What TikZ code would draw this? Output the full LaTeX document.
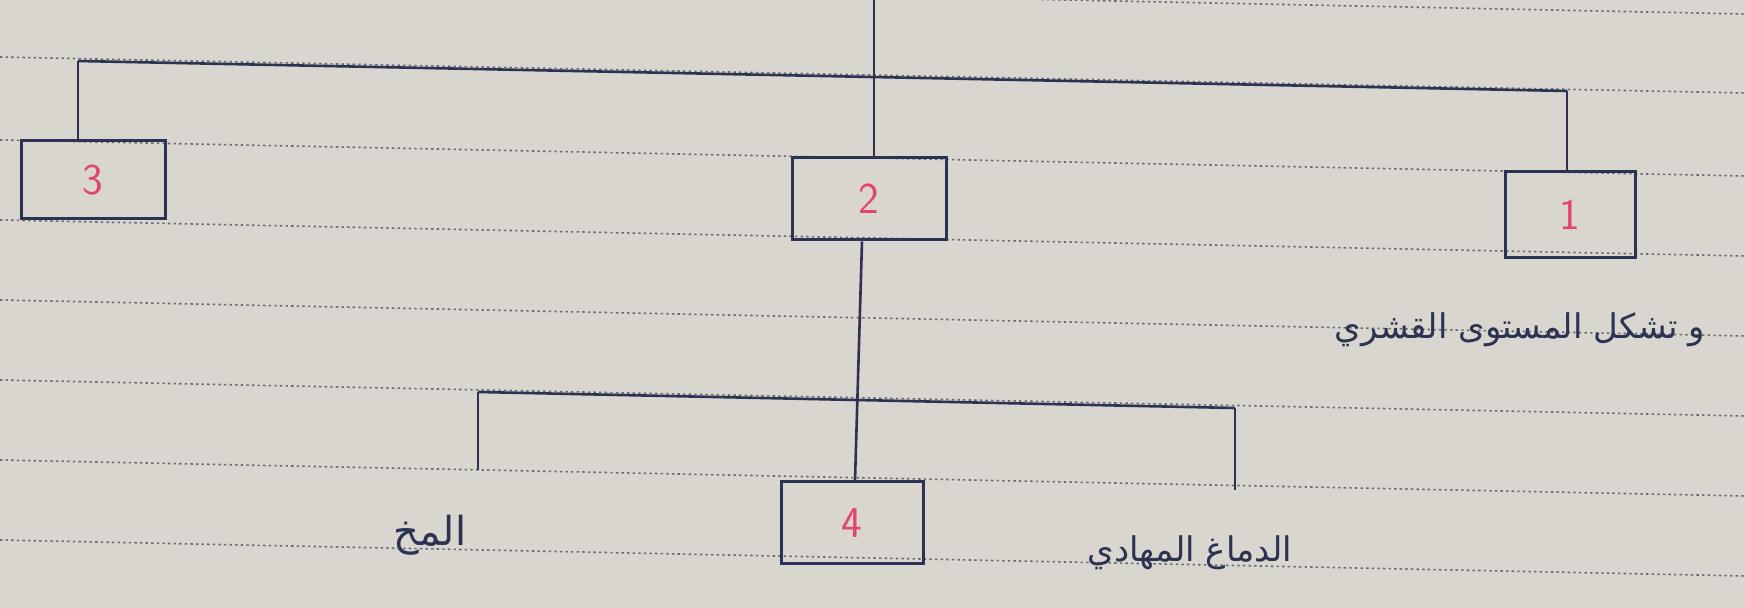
\documentclass[tikz,border=0pt]{standalone}
\usepackage{fontspec}
\newfontfamily\arabicfont[Script=Arabic]{DejaVu Sans}
\TeXXeTstate=1
\definecolor{paper}{HTML}{D9D6CF}
\definecolor{ink}{HTML}{2C3352}
\definecolor{pinkink}{HTML}{E4456E}
\definecolor{rule}{HTML}{6A6A72}
\begin{document}
\begin{tikzpicture}[x=0.5pt,y=-0.5pt,
  wire/.style={draw=ink,line width=1.3pt},
  digitbox/.style={draw=ink,line width=1.5pt,inner sep=0pt,text=pinkink,
    font=\fontsize{22}{24}\selectfont\sffamily},
  label/.style={text=ink,font=\arabicfont\fontsize{17}{20}\selectfont,inner sep=1pt},
  paperline/.style={draw=rule,line width=0.8pt,dash pattern=on 1.2pt off 1.6pt}]
\fill[paper] (0,0) rectangle (1745,608);
\useasboundingbox (0,0) rectangle (1745,608);
% ruled paper lines (slightly sloped)
\foreach \y in {-22,57,140,220,300,380,460,540,620}
  \draw[paperline] (0,\y) -- (1745,\y+36);
% boxes
\node[digitbox,minimum width=72pt,minimum height=39pt] (b3) at (93,180) {3};
\node[digitbox,minimum width=77pt,minimum height=41pt] (b2) at (869,199) {2};
\node[digitbox,minimum width=65pt,minimum height=43pt] (b1) at (1570,215) {1};
\node[digitbox,minimum width=71pt,minimum height=41pt] (b4) at (852,523) {4};
% labels
\node[label] (t1) at (1520,330) {\beginR و تشكل المستوى القشري\endR};
\node[label,font=\arabicfont\fontsize{20}{22}\selectfont] (t2) at (430,535) {\beginR المخ\endR};
\node[label] (t3) at (1190,553) {\beginR الدماغ المهادي\endR};
% top tree
\coordinate (top) at (874,0);
\coordinate (tl) at (78,61);
\coordinate (tr) at (1567,91);
\draw[wire] (tl) -- (tr);
\draw[wire] (tl) -- (tl |- b3.north);
\draw[wire] (tr) -- (tr |- b1.north);
\draw[wire] (top) -- (top |- b2.north);
% lower tree
\coordinate (stemtop) at (862,0);
\coordinate (stembot) at (855,0);
\coordinate (ll) at (478,392);
\coordinate (lr) at (1235,408);
\coordinate (lle) at (478,470);
\coordinate (lre) at (1235,490);
\draw[wire] (stemtop |- b2.south) -- (stembot |- b4.north);
\draw[wire] (ll) -- (lr);
\draw[wire] (ll) -- (lle);
\draw[wire] (lr) -- (lre);
\end{tikzpicture}
\end{document}
